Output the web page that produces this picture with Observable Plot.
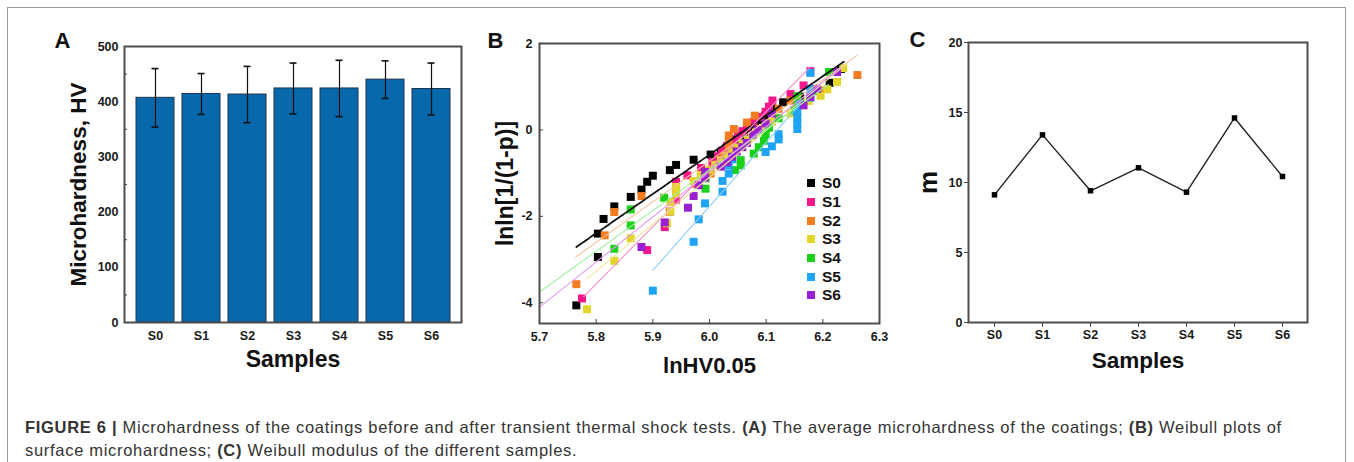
<!DOCTYPE html>
<html><head><meta charset="utf-8">
<script src="https://cdn.jsdelivr.net/npm/d3@7"></script>
<script src="https://cdn.jsdelivr.net/npm/@observablehq/plot@0.6"></script>
<style>
html,body{margin:0;padding:0;background:#fff;}
body{width:1354px;height:462px;overflow:hidden;position:relative;font-family:"Liberation Sans",Arial,sans-serif;}
.panel{position:absolute;top:0;}
.panel svg{overflow:visible;}
#box{position:absolute;left:7px;top:7px;width:1337px;height:520px;border:1.3px solid #999;}
#caption{position:absolute;left:25px;top:416px;font-size:16.5px;letter-spacing:0.7px;line-height:23px;color:#333;white-space:nowrap;}
#legend{position:absolute;left:807px;top:174px;}
#legend .row{display:flex;align-items:center;height:18.7px;font-weight:bold;font-size:15.5px;color:#111;}
#legend .sw{width:8px;height:8px;margin-right:7px;}
</style></head><body>
<div id="box"></div>
<div id="pA" class="panel" style="left:0px"></div>
<div id="pB" class="panel" style="left:480px"></div>
<div id="pC" class="panel" style="left:900px"></div>
<div id="legend"></div>
<div id="caption"><b>FIGURE 6 |</b> Microhardness of the coatings before and after transient thermal shock tests. <b>(A)</b> The average microhardness of the coatings; <b>(B)</b> Weibull plots of<br>surface microhardness; <b>(C)</b> Weibull modulus of the different samples.</div>
<script>
// ---------- data ----------
const samples = ["S0","S1","S2","S3","S4","S5","S6"];
const hvMean = [407, 414, 413, 424, 424, 440, 423];
const hvErr  = [53, 37, 51, 46, 51, 34, 47];
const weibullM = [9.12, 13.4, 9.41, 11.05, 9.31, 14.61, 10.43];

const hvTicks = [0,100,200,300,400,500];
const hvMinor = [50,150,250,350,450];
const bxTicks = [5.7,5.8,5.9,6.0,6.1,6.2,6.3];
const byTicks = [-4,-2,0,2];
const mTicks = [0,5,10,15,20];

const seriesNames = ["S0","S1","S2","S3","S4","S5","S6"];
const seriesColors = ["#000000","#f5168b","#f37b20","#e3d52a","#19d119","#1ea4f7","#9a1fd0"];
const lineColors = ["#111111","#f590c4","#f9c29a","#efe79a","#9ff29f","#8fcdf7","#e49af2"];

const ptsS0 = [[5.765,-4.06],[5.803,-2.94],[5.803,-2.40],[5.813,-2.06],[5.832,-1.77],[5.861,-1.55],[5.880,-1.38],[5.890,-1.20],[5.900,-1.06],[5.930,-0.93],[5.941,-0.81],[5.972,-0.69],[6.002,-0.57],[6.020,-0.51],[6.030,-0.41],[6.040,-0.32],[6.045,-0.22],[6.055,-0.13],[6.062,-0.04],[6.070,0.05],[6.080,0.14],[6.090,0.23],[6.098,0.33],[6.105,0.42],[6.110,0.50],[6.130,0.64],[6.160,0.77],[6.188,0.90],[6.212,1.09],[6.232,1.41]];
const ptsS1 = [[5.775,-3.90],[5.890,-2.78],[5.921,-2.25],[5.930,-1.89],[5.941,-1.62],[5.941,-1.39],[5.941,-1.20],[5.961,-1.05],[5.985,-0.88],[6.005,-0.74],[6.015,-0.61],[6.022,-0.48],[6.031,-0.37],[6.043,-0.25],[6.050,-0.14],[6.058,-0.03],[6.066,0.08],[6.078,0.19],[6.090,0.30],[6.099,0.42],[6.105,0.54],[6.111,0.68],[6.143,0.83],[6.166,1.03],[6.178,1.36]];
const ptsS2 = [[5.765,-3.57],[5.815,-2.44],[5.832,-1.90],[5.880,-1.53],[5.975,-1.25],[6.002,-1.01],[6.015,-0.80],[6.025,-0.62],[6.034,-0.45],[6.034,-0.29],[6.034,-0.13],[6.043,0.02],[6.066,0.17],[6.080,0.33],[6.122,0.49],[6.143,0.68],[6.195,0.91],[6.261,1.27]];
const ptsS3 = [[5.784,-4.15],[5.832,-3.03],[5.861,-2.51],[5.925,-2.16],[5.931,-1.89],[5.931,-1.67],[5.941,-1.48],[5.941,-1.32],[5.972,-1.18],[5.985,-1.04],[6.000,-0.92],[6.010,-0.81],[6.020,-0.70],[6.030,-0.60],[6.040,-0.51],[6.048,-0.41],[6.058,-0.32],[6.068,-0.23],[6.075,-0.15],[6.082,-0.06],[6.090,0.02],[6.100,0.11],[6.110,0.19],[6.120,0.28],[6.143,0.38],[6.150,0.47],[6.165,0.57],[6.175,0.67],[6.196,0.79],[6.208,0.94],[6.225,1.11],[6.236,1.43]];
const ptsS4 = [[5.832,-2.75],[5.861,-2.21],[5.861,-1.84],[5.920,-1.57],[5.993,-1.36],[5.993,-1.12],[6.045,-0.93],[6.055,-0.82],[6.055,-0.70],[6.078,-0.55],[6.087,-0.40],[6.096,-0.25],[6.099,-0.10],[6.105,0.05],[6.122,0.27],[6.150,0.45],[6.155,0.62],[6.155,0.78],[6.211,1.34]];
const ptsS5 = [[5.900,-3.72],[5.972,-2.59],[5.981,-2.07],[5.992,-1.70],[6.023,-1.43],[6.023,-1.18],[6.034,-1.01],[6.034,-0.82],[6.040,-0.68],[6.099,-0.51],[6.110,-0.38],[6.122,-0.22],[6.122,-0.10],[6.155,0.02],[6.155,0.15],[6.155,0.28],[6.155,0.42],[6.160,0.60],[6.178,0.75],[6.178,0.95],[6.178,1.32]];
const ptsS6 = [[5.880,-2.71],[5.921,-2.14],[5.962,-1.80],[5.972,-1.53],[5.981,-1.28],[5.992,-1.10],[5.992,-0.97],[6.020,-0.85],[6.031,-0.75],[6.040,-0.62],[6.048,-0.50],[6.058,-0.40],[6.066,-0.30],[6.077,-0.12],[6.085,0.00],[6.099,0.15],[6.110,0.38],[6.166,0.57],[6.178,0.76],[6.190,0.95],[6.225,1.34]];

const fitS0 = [[5.765,-2.71],[6.237,1.58]];
const fitS1 = [[5.778,-3.86],[6.178,1.46]];
const fitS2 = [[5.764,-2.94],[6.261,1.73]];
const fitS3 = [[5.784,-3.44],[6.243,1.54]];
const fitS4 = [[5.700,-3.75],[6.210,1.05]];
const fitS5 = [[5.900,-3.25],[6.160,0.60]];
const fitS6 = [[5.700,-4.10],[6.231,1.44]];

// ---------- shared ----------
const font = "Liberation Sans, Arial, sans-serif";
const baseStyle = {fontFamily: font, fontSize: "12.5px", fontWeight: "bold", color: "#1a1a1a", background: "transparent", overflow: "visible"};
const frameStroke = {stroke: "#4d4d4d", strokeWidth: 2};
const title = (txt, opts) => Plot.text([txt], {text: d => d, fontFamily: font, fontWeight: "bold", fill: "#111", textAnchor: "middle", lineAnchor: "middle", ...opts});

// ---------- Panel A ----------
const dataA = samples.map((s, i) => ({s, v: hvMean[i], e: hvErr[i]}));
const plotA = Plot.plot({
  width: 480, height: 375, marginLeft: 124, marginRight: 19, marginTop: 46, marginBottom: 53,
  style: baseStyle,
  x: {type: "band", domain: samples, paddingInner: 0.18, paddingOuter: 0.18, axis: null},
  y: {domain: [0, 500], axis: null},
  marks: [
    Plot.barY(dataA, {x: "s", y: "v", fill: "#0868ac", stroke: "#1d3550", strokeWidth: 1}),
    Plot.ruleX(dataA, {x: "s", y1: d => d.v - d.e, y2: d => d.v + d.e, stroke: "#111", strokeWidth: 1.2}),
    Plot.tickY(dataA, {x: "s", y: d => d.v + d.e, insetLeft: 15.5, insetRight: 15.5, stroke: "#111", strokeWidth: 1.6}),
    Plot.tickY(dataA, {x: "s", y: d => d.v - d.e, insetLeft: 15.5, insetRight: 15.5, stroke: "#111", strokeWidth: 1.6}),
    Plot.frame(frameStroke),
    Plot.axisY({ticks: hvTicks, tickSize: 0, tickPadding: 6, label: null}),
    Plot.axisY({ticks: hvMinor, tickSize: -3, fill: "none", label: null, stroke: "#444"}),
    Plot.axisX({tickSize: 0, tickPadding: 9, label: null}),
    title("Microhardness, HV", {frameAnchor: "left", dx: -46, rotate: -90, fontSize: 22.5}),
    title("Samples", {frameAnchor: "bottom", dy: 37, fontSize: 23}),
    title("A", {frameAnchor: "top-left", dx: -62, dy: -6, fontSize: 22})
  ]
});
document.getElementById("pA").append(plotA);

// ---------- Panel B ----------
const ptsList = [ptsS0, ptsS1, ptsS2, ptsS3, ptsS4, ptsS5, ptsS6];
const fitList = [fitS0, fitS1, fitS2, fitS3, fitS4, fitS5, fitS6];
const points = ptsList.flatMap((arr, i) => arr.map(([x, y]) => ({s: seriesNames[i], x, y})));
const plotB = Plot.plot({
  width: 420, height: 390, marginLeft: 59, marginRight: 21, marginTop: 43, marginBottom: 67,
  style: baseStyle,
  x: {domain: [5.7, 6.3], axis: null},
  y: {domain: [-4.48, 2], axis: null},
  color: {domain: seriesNames, range: seriesColors},
  marks: [
    Plot.dot(points, {x: "x", y: "y", fill: "s", symbol: "square", r: 4.5, stroke: null}),
    ...fitList.map((f, i) => Plot.line(f, {x: d => d[0], y: d => d[1], stroke: lineColors[i],
        strokeWidth: i === 0 ? 1.8 : 1.1, strokeDasharray: i === 0 ? "7,1.5" : null})),
    Plot.frame(frameStroke),
    Plot.axisX({ticks: bxTicks, tickFormat: d => d.toFixed(1), tickSize: -4, tickPadding: 13, label: null, stroke: "#444"}),
    Plot.axisY({ticks: byTicks, tickFormat: d => String(d), tickSize: -4, tickPadding: 11, label: null, stroke: "#444"}),
    title("lnln[1/(1-p)]", {frameAnchor: "left", dx: -34, rotate: -90, fontSize: 23}),
    title("lnHV0.05", {frameAnchor: "bottom", dy: 42, fontSize: 22}),
    title("B", {frameAnchor: "top-left", dx: -44, dy: -3, fontSize: 22})
  ]
});
document.getElementById("pB").append(plotB);

const legend = document.getElementById("legend");
seriesNames.forEach((s, i) => {
  const row = document.createElement("div");
  row.className = "row";
  const sw = document.createElement("span");
  sw.className = "sw";
  sw.style.background = seriesColors[i];
  row.append(sw, document.createTextNode(s));
  legend.append(row);
});

// ---------- Panel C ----------
const dataC = samples.map((s, i) => ({s, m: weibullM[i]}));
const plotC = Plot.plot({
  width: 430, height: 390, marginLeft: 68, marginRight: 23, marginTop: 42, marginBottom: 68,
  style: baseStyle,
  x: {type: "point", domain: samples, padding: 0.5, axis: null},
  y: {domain: [0, 20], axis: null},
  marks: [
    Plot.line(dataC, {x: "s", y: "m", stroke: "#222", strokeWidth: 1.4}),
    Plot.dot(dataC, {x: "s", y: "m", symbol: "square", r: 3.1, fill: "#000", stroke: null}),
    Plot.frame(frameStroke),
    Plot.axisX({tickSize: 5, tickPadding: 3, label: null, stroke: "#444"}),
    Plot.axisY({ticks: mTicks, tickSize: 4, tickPadding: 2, label: null, stroke: "#444"}),
    title("m", {frameAnchor: "left", dx: -40, rotate: -90, fontSize: 26}),
    title("Samples", {frameAnchor: "bottom", dy: 38, fontSize: 22.5}),
    title("C", {frameAnchor: "top-left", dx: -51, dy: -3, fontSize: 22})
  ]
});
document.getElementById("pC").append(plotC);
</script>
</body></html>
